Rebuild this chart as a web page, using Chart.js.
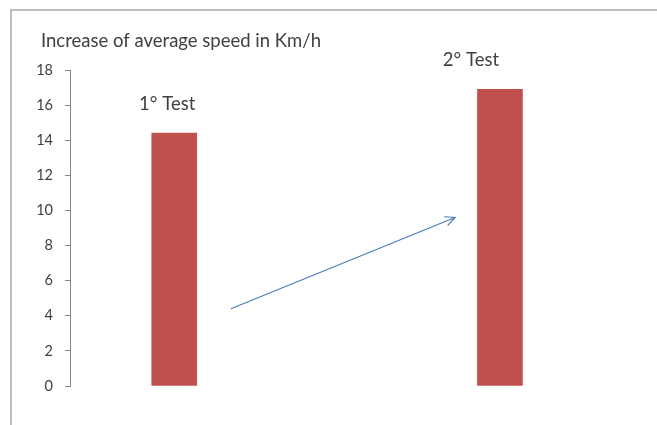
<!DOCTYPE html>
<html>
<head>
<meta charset="utf-8">
<script src="https://cdn.jsdelivr.net/npm/chart.js@4"></script>
<style>
  html, body { margin: 0; padding: 0; background: #fff; }
  #wrap { width: 657px; height: 425px; }
</style>
</head>
<body>
<div id="wrap"><canvas id="c" width="657" height="425"></canvas></div>
<script>
const chartTitle = "Increase of average speed in Km/h";
const categories = ["1° Test", "2° Test"];
const speedIncrease = [14.4, 16.9];
const yTicks = [0, 2, 4, 6, 8, 10, 12, 14, 16, 18];
// arrow annotation in data space: [x, y] start and end
const arrowFrom = [1.174, 4.4];
const arrowTo = [1.862, 9.6];

const FONT = "Lato, 'Open Sans', sans-serif";
const TEXT = "#404040";

const decor = {
  id: 'decor',
  beforeDraw(chart) {
    const ctx = chart.ctx;
    ctx.save();
    // outer frame (top & left)
    ctx.strokeStyle = '#a6a6a6';
    ctx.lineWidth = 1.5;
    ctx.beginPath();
    ctx.moveTo(11, 425);
    ctx.lineTo(11, 10);
    ctx.lineTo(657, 10);
    ctx.stroke();
    // title
    ctx.fillStyle = TEXT;
    ctx.font = "18.5px " + FONT;
    ctx.textBaseline = 'middle';
    ctx.textAlign = 'left';
    ctx.fillText(chartTitle, 41, 41);
    ctx.restore();
  },
  afterDatasetsDraw(chart) {
    const ctx = chart.ctx;
    const xs = chart.scales.x, ys = chart.scales.y;
    const meta = chart.getDatasetMeta(0);
    const dx = [-7, -29];
    ctx.save();
    ctx.fillStyle = TEXT;
    ctx.font = "18.5px " + FONT;
    ctx.textAlign = 'center';
    ctx.textBaseline = 'middle';
    meta.data.forEach((bar, i) => {
      ctx.fillText(categories[i], bar.x + dx[i], bar.y - 29);
    });
    // arrow
    const x1 = xs.getPixelForValue(arrowFrom[0]), y1 = ys.getPixelForValue(arrowFrom[1]);
    const x2 = xs.getPixelForValue(arrowTo[0]), y2 = ys.getPixelForValue(arrowTo[1]);
    ctx.strokeStyle = '#4a7ebb';
    ctx.lineWidth = 1.2;
    ctx.beginPath();
    ctx.moveTo(x1, y1);
    ctx.lineTo(x2, y2);
    const ang = Math.atan2(y2 - y1, x2 - x1);
    const h = 11, spread = 0.45;
    ctx.moveTo(x2 - h * Math.cos(ang - spread), y2 - h * Math.sin(ang - spread));
    ctx.lineTo(x2, y2);
    ctx.lineTo(x2 - h * Math.cos(ang + spread), y2 - h * Math.sin(ang + spread));
    ctx.stroke();
    ctx.restore();
  }
};

new Chart(document.getElementById('c'), {
  type: 'bar',
  data: {
    datasets: [{
      label: chartTitle,
      data: categories.map((c, i) => ({ x: i + 1, y: speedIncrease[i] })),
      backgroundColor: '#c0504d',
      borderWidth: 0,
      barThickness: 45
    }]
  },
  options: {
    responsive: false,
    animation: false,
    layout: { padding: { top: 70, bottom: 39, left: 0, right: 17 } },
    plugins: { legend: { display: false }, tooltip: { enabled: false } },
    scales: {
      x: {
        type: 'linear',
        display: false,
        offset: false,
        min: 0.68,
        max: 2.43
      },
      y: {
        min: 0,
        max: 18,
        afterBuildTicks(axis) { axis.ticks = yTicks.map(v => ({ value: v })); },
        afterFit(axis) { axis.width = 70; },
        border: { display: true, color: '#868686', width: 1 },
        grid: { drawOnChartArea: false, drawTicks: true, tickLength: 5, color: '#868686' },
        ticks: { color: TEXT, padding: 12, font: { family: FONT, size: 14.5 } }
      }
    }
  },
  plugins: [decor]
});
</script>
</body>
</html>
